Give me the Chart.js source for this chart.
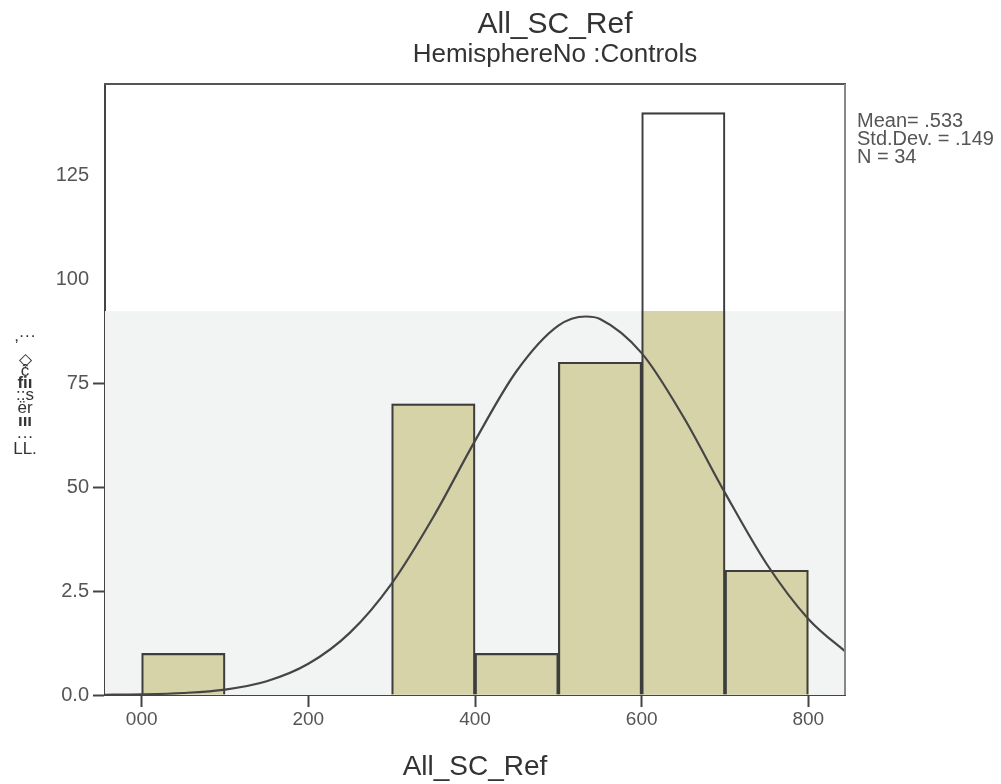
<!DOCTYPE html>
<html>
<head>
<meta charset="utf-8">
<title>All_SC_Ref</title>
<script src="https://cdn.jsdelivr.net/npm/chart.js@4.4.0/dist/chart.umd.min.js"></script>
<style>
  html, body { margin: 0; padding: 0; background: #fff; }
  #wrap { width: 1001px; height: 784px; }
</style>
</head>
<body>
<div id="wrap"><canvas id="histChart" width="1001" height="784"></canvas></div>
<script>
// histogram bins (left edge, width 0.1) and frequencies
const binStarts = [0.0, 0.3, 0.4, 0.5, 0.6, 0.7];
const binWidth = 0.1;
const counts = [1, 7, 1, 8, 14, 3];

// normal curve
const curveX = [-0.05, 0, 0.05, 0.1, 0.15, 0.2, 0.25, 0.3, 0.35, 0.4, 0.45, 0.5, 0.533, 0.55, 0.6, 0.65, 0.7, 0.75, 0.8, 0.85];
const curveY = [0.004, 0.015, 0.048, 0.13, 0.33, 0.75, 1.5, 2.68, 4.28, 6.11, 7.79, 8.88, 9.1, 9.04, 8.22, 6.69, 4.86, 3.15, 1.83, 0.95];

// axis ticks and their labels as printed
const xTicks = [0, 0.2, 0.4, 0.6, 0.8];
const xTickLabels = ['000', '200', '400', '600', '800'];
const yTicks = [0, 2.5, 5, 7.5, 10, 12.5];
const yTickLabels = ['0.0', '2.5', '50', '75', '100', '125'];

const statsLines = ['Mean= .533', 'Std.Dev. = .149', 'N = 34'];
const yTitleGlyphs = [',···', '◇', 'ĉ', 'fiı', '::s', 'ër', 'ııı', '···', 'LL.'];

// grey plot background only reaches this height
const shadeTop = 9.23;

const FONT = "'Liberation Sans', Arial, sans-serif";

// Function to draw the SPSS style extras (background, frame, texts)
const spssPlugin = {
    id: 'spss',
    beforeDatasetsDraw(chart) {
        const { ctx, chartArea: a, scales: { y } } = chart;
        const top = y.getPixelForValue(shadeTop);
        ctx.save();
        ctx.fillStyle = '#f2f3f3';
        ctx.fillRect(a.left, top, a.right - a.left, a.bottom - top);
        ctx.restore();
    },
    beforeDatasetDraw(chart, args) {
        if (args.index !== 0) return;
        // bar fill is cut at the shaded area
        const { ctx, chartArea: a, scales: { y } } = chart;
        const top = y.getPixelForValue(shadeTop);
        ctx.save();
        ctx.beginPath();
        ctx.rect(a.left, top, a.right - a.left, a.bottom - top);
        ctx.clip();
    },
    afterDatasetDraw(chart, args) {
        if (args.index === 0) chart.ctx.restore();
    },
    afterDraw(chart) {
        const { ctx, chartArea: a } = chart;
        ctx.save();

        // top and right frame
        ctx.lineWidth = 2;
        ctx.strokeStyle = '#555';
        ctx.beginPath();
        ctx.moveTo(a.left - 1, a.top);
        ctx.lineTo(a.right + 1, a.top);
        ctx.stroke();
        ctx.strokeStyle = '#888';
        ctx.beginPath();
        ctx.moveTo(a.right, a.top);
        ctx.lineTo(a.right, a.bottom);
        ctx.stroke();

        // titles
        ctx.fillStyle = '#333';
        ctx.textAlign = 'center';
        ctx.textBaseline = 'alphabetic';
        ctx.font = '30px ' + FONT;
        ctx.fillText('All_SC_Ref', 555, 33);
        ctx.font = '26px ' + FONT;
        ctx.fillText('HemisphereNo :Controls', 555, 62);
        ctx.font = '28px ' + FONT;
        ctx.fillText('All_SC_Ref', (a.left + a.right) / 2, 775);

        // stats box
        ctx.fillStyle = '#555';
        ctx.textAlign = 'left';
        ctx.font = '20px ' + FONT;
        statsLines.forEach((t, i) => ctx.fillText(t, 857, 127 + i * 18));

        // y axis title (stacked glyphs)
        ctx.fillStyle = '#333';
        ctx.textAlign = 'center';
        ctx.textBaseline = 'middle';
        const glyphY = [336, 360, 371, 383, 395, 408, 421, 437, 449];
        yTitleGlyphs.forEach((g, i) => {
            ctx.font = (g === 'fiı' || g === 'ııı' ? 'bold 17px ' : '17px ') + FONT;
            ctx.fillText(g, 25, glyphY[i]);
        });
        ctx.restore();
    }
};

const barData = binStarts.map((s, i) => ({ x: s + binWidth / 2, y: counts[i] }));
const curveData = curveX.map((x, i) => ({ x: x, y: curveY[i] }));

const ctx = document.getElementById('histChart').getContext('2d');
const chartInstance = new Chart(ctx, {
    type: 'bar',
    data: {
        datasets: [{
            // fill only
            label: 'fill',
            data: barData,
            backgroundColor: '#d6d3a8',
            borderWidth: 0,
            grouped: false,
            barPercentage: 1,
            categoryPercentage: 1,
            order: 3
        }, {
            // outline
            label: 'outline',
            data: barData,
            backgroundColor: 'rgba(0,0,0,0)',
            borderColor: '#3d3d3d',
            borderWidth: 1.5,
            grouped: false,
            barPercentage: 1,
            categoryPercentage: 1,
            order: 2
        }, {
            type: 'line',
            label: 'normal',
            data: curveData,
            borderColor: '#454545',
            borderWidth: 2.2,
            pointRadius: 0,
            cubicInterpolationMode: 'monotone',
            fill: false,
            order: 1
        }]
    },
    options: {
        responsive: false,
        animation: false,
        devicePixelRatio: 1,
        layout: { padding: { top: 84, right: 156, left: 0, bottom: 0 } },
        plugins: {
            legend: { display: false },
            tooltip: { enabled: false },
            title: { display: false }
        },
        scales: {
            x: {
                type: 'linear',
                offset: false,
                min: -0.044,
                max: 0.844,
                afterBuildTicks: s => { s.ticks = xTicks.map(v => ({ value: v })); },
                afterFit: s => { s.height = 89; },
                ticks: {
                    callback: (v, i) => xTickLabels[i],
                    font: { family: FONT, size: 19 },
                    color: '#555',
                    padding: 1,
                    maxRotation: 0,
                    autoSkip: false
                },
                grid: { offset: false, drawOnChartArea: false, drawTicks: true, tickLength: 12, tickColor: '#444', tickWidth: 2 },
                border: { color: '#444', width: 2 }
            },
            y: {
                min: 0,
                max: 14.69,
                afterBuildTicks: s => { s.ticks = yTicks.map(v => ({ value: v })); },
                afterFit: s => { s.width = 105; },
                ticks: {
                    callback: (v, i) => yTickLabels[i],
                    font: { family: FONT, size: 20 },
                    color: '#555',
                    padding: 4
                },
                grid: {
                    drawOnChartArea: false,
                    tickLength: 12,
                    tickWidth: 2,
                    tickColor: c => (c.tick && c.tick.value < shadeTop) ? '#444' : 'rgba(0,0,0,0)'
                },
                border: { color: '#444', width: 2 }
            }
        }
    },
    plugins: [spssPlugin]
});
</script>
</body>
</html>
